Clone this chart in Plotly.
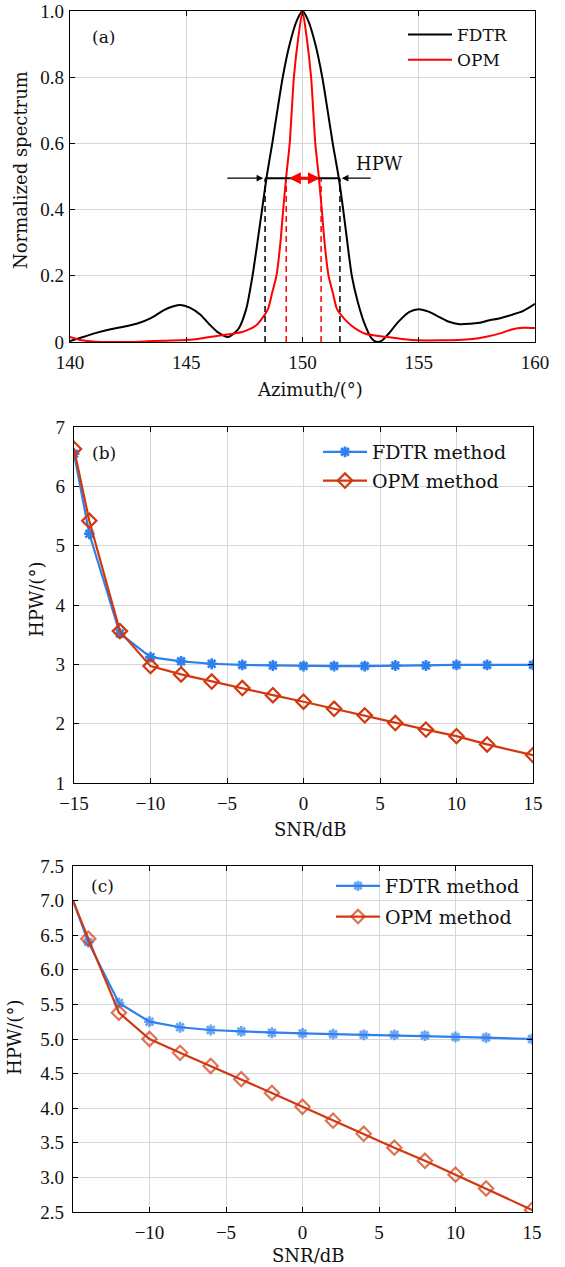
import plotly.graph_objects as go

# ---------------- panel (a): normalized spatial spectrum ----------------
az_fdtr = [140.0, 140.6, 141.2, 141.7, 142.3, 142.9, 143.5, 144.0, 144.45, 144.75,
           145.15, 145.6, 146.0, 146.35, 146.8, 147.25, 147.58, 147.85, 148.06, 148.26,
           148.46, 148.7, 148.92, 149.15, 149.45, 149.75, 150.0, 150.25, 150.55, 150.85,
           151.08, 151.3, 151.55, 151.75, 151.93, 152.12, 152.38, 152.68, 152.97, 153.2,
           153.45, 153.7, 154.15, 154.6, 155.0, 155.45, 155.9, 156.3, 156.75, 157.2,
           157.6, 158.0, 158.5, 159.0, 159.5, 160.0]
sp_fdtr = [0.003, 0.016, 0.029, 0.038, 0.046, 0.056, 0.073, 0.095, 0.108, 0.112,
           0.104, 0.083, 0.053, 0.03, 0.015, 0.04, 0.1, 0.2, 0.3, 0.4,
           0.5, 0.6, 0.7, 0.8, 0.9, 0.97, 1.0, 0.97, 0.9, 0.8,
           0.7, 0.6, 0.5, 0.4, 0.3, 0.2, 0.12, 0.053, 0.011, 0.0,
           0.006, 0.025, 0.063, 0.091, 0.099, 0.091, 0.075, 0.061, 0.054, 0.055,
           0.058, 0.065, 0.072, 0.082, 0.094, 0.115]

az_opm = [140.0, 140.5, 141.1, 141.8, 142.5, 143.3, 144.0, 145.0, 145.5, 146.0,
          146.5, 147.0, 147.4, 147.7, 148.0, 148.25, 148.52, 148.7, 148.88, 149.05,
          149.17, 149.3, 149.45, 149.63, 149.82, 150.0, 150.18, 150.37, 150.55, 150.7,
          150.83, 150.95, 151.12, 151.3, 151.48, 151.8, 152.1, 152.4, 152.7, 153.3,
          153.9, 154.4, 155.0, 155.9, 156.7, 157.3, 157.9, 158.5, 159.0, 159.5, 160.0]
sp_opm = [0.015, 0.005, 0.001, 0.0, 0.0, 0.002, 0.004, 0.006, 0.009, 0.015,
          0.02, 0.025, 0.03, 0.038, 0.05, 0.07, 0.1, 0.15, 0.2, 0.3,
          0.4, 0.5, 0.6, 0.8, 0.92, 1.0, 0.92, 0.8, 0.6, 0.5,
          0.4, 0.3, 0.2, 0.15, 0.1, 0.07, 0.05, 0.035, 0.025, 0.018,
          0.013, 0.008, 0.005, 0.005, 0.006, 0.009, 0.016, 0.026, 0.038, 0.043, 0.042]

# half-power points of each beam and the half-power level
hp_fdtr = [148.39, 151.61]
hp_opm = [149.30, 150.80]
half_level = 0.495

# ---------------- panels (b) and (c): HPW versus SNR ----------------
snr = [-15, -14, -12, -10, -8, -6, -4, -2, 0, 2, 4, 6, 8, 10, 12, 15]
hpw_b_fdtr = [6.55, 5.20, 3.52, 3.12, 3.05, 3.01, 2.99, 2.98, 2.97, 2.97, 2.97, 2.98, 2.98, 2.99, 2.99, 2.99]
hpw_b_opm = [6.63, 5.42, 3.56, 2.97, 2.83, 2.71, 2.60, 2.48, 2.37, 2.25, 2.14, 2.01, 1.90, 1.79, 1.65, 1.47]
hpw_c_fdtr = [7.00, 6.40, 5.52, 5.25, 5.17, 5.13, 5.11, 5.09, 5.08, 5.07, 5.06, 5.06, 5.05, 5.03, 5.02, 5.00]
hpw_c_opm = [7.00, 6.45, 5.38, 5.00, 4.80, 4.61, 4.42, 4.22, 4.02, 3.82, 3.63, 3.43, 3.24, 3.04, 2.84, 2.53]

snr_ticks = [-15, -10, -5, 0, 5, 10, 15]
snr_ticktext = ["\u221215", "\u221210", "\u22125", "0", "5", "10", "15"]

W, H = 565, 1267
TICK_FONT = "Liberation Serif"
TEXT_FONT = "DejaVu Serif"
BLUE = "#2f80ef"
RED = "#d2380f"
GRID = "#d6d6d6"


def px(x):
    return x / W


def py(y):
    return 1 - y / H


fig = go.Figure()

# panel (a)
fig.add_trace(go.Scatter(x=az_fdtr, y=sp_fdtr, mode="lines", name="FDTR",
                         line=dict(color="black", width=2, shape="spline", smoothing=0.6),
                         xaxis="x", yaxis="y", legend="legend"))
fig.add_trace(go.Scatter(x=az_opm, y=sp_opm, mode="lines", name="OPM",
                         line=dict(color="#ff0000", width=2, shape="spline", smoothing=0.6),
                         xaxis="x", yaxis="y", legend="legend"))
for xv in hp_fdtr:
    fig.add_trace(go.Scatter(x=[xv, xv], y=[0, half_level], mode="lines", showlegend=False,
                             line=dict(color="black", width=1.5, dash="6px,4px"),
                             xaxis="x", yaxis="y", hoverinfo="skip"))
for xv in hp_opm:
    fig.add_trace(go.Scatter(x=[xv, xv], y=[0, half_level], mode="lines", showlegend=False,
                             line=dict(color="#ff0000", width=1.5, dash="6px,4px"),
                             xaxis="x", yaxis="y", hoverinfo="skip"))
fig.add_trace(go.Scatter(x=hp_fdtr, y=[half_level, half_level], mode="lines", showlegend=False,
                         line=dict(color="black", width=2), xaxis="x", yaxis="y", hoverinfo="skip"))

# panel (b)
fig.add_trace(go.Scatter(x=snr, y=hpw_b_fdtr, mode="lines+markers", name="FDTR method",
                         line=dict(color=BLUE, width=2.2),
                         marker=dict(symbol="asterisk", size=9, color=BLUE, line=dict(color=BLUE, width=2.6)),
                         xaxis="x2", yaxis="y2", legend="legend2", legendgroup="b1"))
fig.add_trace(go.Scatter(x=snr, y=hpw_b_opm, mode="lines+markers", name="OPM method",
                         line=dict(color=RED, width=2.2),
                         marker=dict(symbol="diamond-open", size=11, color=RED, line=dict(color=RED, width=2.2)),
                         xaxis="x2", yaxis="y2", legend="legend2", legendgroup="b2"))

# panel (c): the first sample sits on the left frame and carries no marker
first_hidden_asterisk = [0] + [9] * (len(snr) - 1)
first_hidden_diamond = [0] + [11] * (len(snr) - 1)
fig.add_trace(go.Scatter(x=snr, y=hpw_c_fdtr, mode="lines+markers", name="FDTR method",
                         line=dict(color=BLUE, width=2.2),
                         marker=dict(symbol="asterisk", size=first_hidden_asterisk, color=BLUE,
                                     line=dict(color=BLUE, width=2.6)),
                         xaxis="x3", yaxis="y3", legend="legend3", legendgroup="c1"))
fig.add_trace(go.Scatter(x=snr, y=hpw_c_opm, mode="lines+markers", name="OPM method",
                         line=dict(color=RED, width=2.2),
                         marker=dict(symbol="diamond-open", size=first_hidden_diamond, color=RED,
                                     line=dict(color=RED, width=2.2)),
                         xaxis="x3", yaxis="y3", legend="legend3", legendgroup="c2"))

axis_common = dict(showline=True, linecolor="black", linewidth=1.2, mirror="ticks",
                   ticks="inside", ticklen=5, tickwidth=1, tickcolor="black",
                   showgrid=True, gridcolor=GRID, gridwidth=1, zeroline=False,
                   automargin=False, ticklabeloverflow="allow",
                   tickfont=dict(family=TICK_FONT, size=19, color="#111111"))

frames = {
    "a": (70, 535, 11, 342),
    "b": (74, 533, 427, 783),
    "c": (73, 532, 866, 1212),
}


def dom_x(k):
    l, r, t, b = frames[k]
    return [px(l), px(r)]


def dom_y(k):
    l, r, t, b = frames[k]
    return [py(b), py(t)]


legend_common = dict(xanchor="left", yanchor="top", bgcolor="rgba(0,0,0,0)", itemwidth=44)

fig.update_layout(
    width=W, height=H,
    margin=dict(l=0, r=0, t=0, b=0, autoexpand=False),
    paper_bgcolor="white", plot_bgcolor="white",
    font=dict(family=TEXT_FONT, size=18, color="#111111"),
    xaxis=dict(domain=dom_x("a"), anchor="y", range=[140, 160],
               tickvals=[140, 145, 150, 155, 160], ticklabelstandoff=3, **axis_common),
    yaxis=dict(domain=dom_y("a"), anchor="x", range=[0, 1],
               tickvals=[0, 0.2, 0.4, 0.6, 0.8, 1.0],
               ticktext=["0", "0.2", "0.4", "0.6", "0.8", "1.0"], ticklabelstandoff=1, **axis_common),
    xaxis2=dict(domain=dom_x("b"), anchor="y2", range=[-15, 15],
                tickvals=snr_ticks, ticktext=snr_ticktext, ticklabelstandoff=3, **axis_common),
    yaxis2=dict(domain=dom_y("b"), anchor="x2", range=[1, 7],
                tickvals=[1, 2, 3, 4, 5, 6, 7], ticklabelstandoff=4, **axis_common),
    xaxis3=dict(domain=dom_x("c"), anchor="y3", range=[-15, 15],
                tickvals=snr_ticks[1:], ticktext=snr_ticktext[1:], ticklabelstandoff=3, **axis_common),
    yaxis3=dict(domain=dom_y("c"), anchor="x3", range=[2.5, 7.5],
                tickvals=[2.5, 3.0, 3.5, 4.0, 4.5, 5.0, 5.5, 6.0, 6.5, 7.0, 7.5],
                ticktext=["2.5", "3.0", "3.5", "4.0", "4.5", "5.0", "5.5", "6.0", "6.5", "7.0", "7.5"],
                ticklabelstandoff=4, **axis_common),
    legend=dict(x=px(403), y=py(17), font=dict(family=TEXT_FONT, size=17),
                tracegroupgap=0, **legend_common),
    legend2=dict(x=px(318), y=py(433), font=dict(family=TEXT_FONT, size=19),
                 tracegroupgap=1, **legend_common),
    legend3=dict(x=px(331), y=py(867), font=dict(family=TEXT_FONT, size=19),
                 tracegroupgap=3, **legend_common),
)


def label(text, x, y, size=18, angle=0):
    return dict(text=text, x=px(x), y=py(y), xref="paper", yref="paper",
                xanchor="center", yanchor="middle", showarrow=False,
                textangle=angle, font=dict(size=size))


ann = [
    # axis titles
    label("Azimuth/(\u00b0)", 310, 389),
    label("Normalized spectrum", 21, 170, angle=-90),
    label("SNR/dB", 310, 829),
    label("HPW/(\u00b0)", 36, 600, angle=-90),
    label("SNR/dB", 308, 1255),
    label("HPW/(\u00b0)", 14, 1038, angle=-90),
    # panel letters
    label("(a)", 103, 37, size=17),
    label("(b)", 104, 453, size=17),
    label("(c)", 102, 886, size=17),
]
# HPW markers in panel (a)
ann.append(dict(text="HPW", x=153.3, y=0.54, xref="x", yref="y", showarrow=False,
                xanchor="center", yanchor="middle", font=dict(size=18)))
ann.append(dict(x=hp_fdtr[0] - 0.08, y=half_level, ax=146.7, ay=half_level,
                xref="x", yref="y", axref="x", ayref="y", text="",
                showarrow=True, arrowhead=2, arrowsize=1.1, arrowwidth=1.2, arrowcolor="black"))
ann.append(dict(x=hp_fdtr[1] + 0.08, y=half_level, ax=153.0, ay=half_level,
                xref="x", yref="y", axref="x", ayref="y", text="",
                showarrow=True, arrowhead=2, arrowsize=1.1, arrowwidth=1.2, arrowcolor="black"))
ann.append(dict(x=hp_opm[1] - 0.05, y=half_level, ax=hp_opm[0] + 0.05, ay=half_level,
                xref="x", yref="y", axref="x", ayref="y", text="",
                showarrow=True, arrowhead=2, arrowside="end+start", arrowsize=0.8,
                arrowwidth=3, arrowcolor="#ff0000"))
fig.update_layout(annotations=ann)

fig.write_html("out.html")
